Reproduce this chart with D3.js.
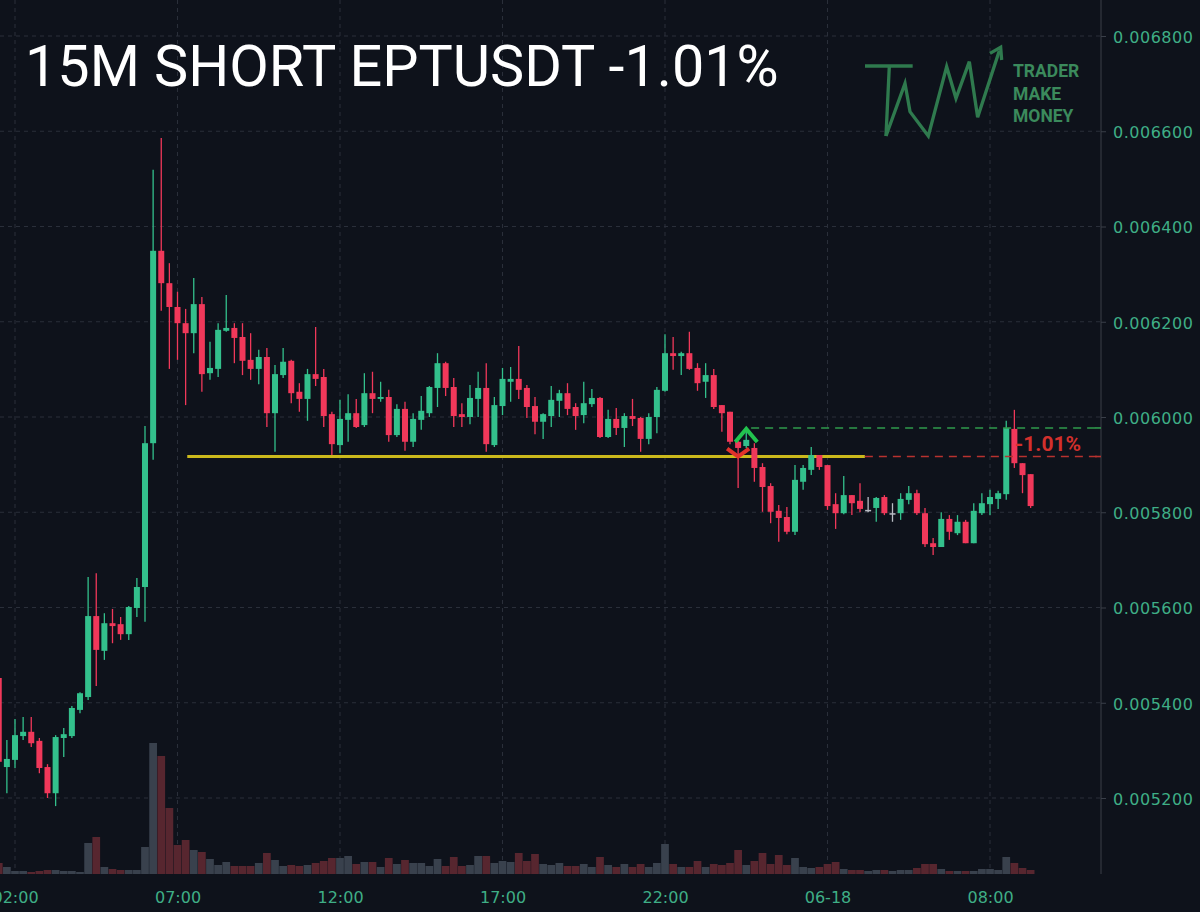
<!DOCTYPE html>
<html><head><meta charset="utf-8">
<script src="https://cdn.jsdelivr.net/npm/d3@7/dist/d3.min.js"></script>
<style>
html,body{margin:0;padding:0;background:#0e121b;}
svg{display:block;}
</style></head>
<body>
<svg id="c" width="1200" height="912"></svg>
<script>
// ---- DATA (15m candles, index 0 = 02:00) ----
const startIndex = -2;
const opens = [0.005452,0.005265,0.005280,0.005330,0.005339,0.005320,0.005265,0.005210,0.005326,0.005330,0.005385,0.005412,0.005582,0.005509,0.005567,0.005565,0.005544,0.005599,0.005643,0.005945,0.006349,0.006281,0.006231,0.006197,0.006176,0.006237,0.006092,0.006101,0.006181,0.006187,0.006168,0.006120,0.006101,0.006126,0.006008,0.006088,0.006118,0.006053,0.006038,0.006090,0.006084,0.006006,0.005941,0.005994,0.006008,0.005983,0.006050,0.006038,0.006042,0.005962,0.006017,0.005948,0.005994,0.006008,0.006061,0.006113,0.006063,0.006006,0.006000,0.006038,0.006061,0.005941,0.006023,0.006074,0.006080,0.006061,0.006023,0.005990,0.006002,0.006034,0.006050,0.006021,0.006004,0.006027,0.006040,0.005958,0.005996,0.005977,0.006002,0.005998,0.005954,0.006000,0.006055,0.006134,0.006128,0.006134,0.006103,0.006074,0.006088,0.006025,0.006011,0.005948,0.005939,0.005935,0.005895,0.005855,0.005803,0.005790,0.005759,0.005864,0.005889,0.005920,0.005899,0.005817,0.005798,0.005836,0.005824,0.005805,0.005809,0.005832,0.005798,0.005798,0.005826,0.005840,0.005798,0.005735,0.005727,0.005786,0.005756,0.005780,0.005735,0.005798,0.005817,0.005828,0.005838,0.005975,0.005903,0.005880];
const highs = [0.005458,0.005322,0.005366,0.005370,0.005370,0.005326,0.005271,0.005332,0.005347,0.005393,0.005422,0.005664,0.005672,0.005588,0.005597,0.005580,0.005603,0.005662,0.005981,0.006519,0.006586,0.006323,0.006263,0.006227,0.006292,0.006252,0.006158,0.006197,0.006256,0.006197,0.006197,0.006176,0.006141,0.006145,0.006109,0.006145,0.006120,0.006071,0.006101,0.006189,0.006101,0.006011,0.006036,0.006048,0.006038,0.006092,0.006095,0.006074,0.006057,0.006027,0.006032,0.006008,0.006044,0.006065,0.006134,0.006116,0.006082,0.006029,0.006067,0.006095,0.006113,0.006042,0.006103,0.006105,0.006149,0.006067,0.006042,0.006008,0.006065,0.006057,0.006071,0.006029,0.006074,0.006059,0.006042,0.006015,0.006019,0.006008,0.006038,0.006000,0.006008,0.006063,0.006174,0.006168,0.006137,0.006179,0.006113,0.006113,0.006101,0.006025,0.006011,0.005950,0.005977,0.005945,0.005903,0.005861,0.005815,0.005811,0.005899,0.005899,0.005937,0.005920,0.005899,0.005840,0.005876,0.005836,0.005861,0.005832,0.005832,0.005836,0.005819,0.005840,0.005855,0.005847,0.005809,0.005746,0.005800,0.005794,0.005794,0.005784,0.005819,0.005840,0.005847,0.005845,0.005992,0.006015,0.005903,0.005880];
const lows = [0.005263,0.005210,0.005263,0.005322,0.005307,0.005252,0.005200,0.005183,0.005286,0.005326,0.005378,0.005406,0.005435,0.005490,0.005525,0.005532,0.005532,0.005580,0.005570,0.005910,0.006223,0.006101,0.006120,0.006025,0.006134,0.006053,0.006078,0.006084,0.006179,0.006113,0.006088,0.006078,0.006069,0.005979,0.005927,0.006082,0.006029,0.006011,0.005992,0.006065,0.005979,0.005920,0.005924,0.005948,0.005977,0.005979,0.006008,0.006032,0.005948,0.005958,0.005929,0.005937,0.005973,0.006000,0.006021,0.006044,0.005979,0.005979,0.005985,0.006000,0.005927,0.005937,0.006004,0.006032,0.006038,0.005998,0.005964,0.005954,0.005979,0.006000,0.006004,0.005973,0.005987,0.006021,0.005956,0.005956,0.005962,0.005937,0.005981,0.005927,0.005943,0.005966,0.006053,0.006099,0.006088,0.006099,0.006055,0.006040,0.006017,0.005969,0.005943,0.005851,0.005935,0.005864,0.005801,0.005777,0.005738,0.005754,0.005752,0.005847,0.005878,0.005889,0.005805,0.005765,0.005796,0.005794,0.005800,0.005800,0.005780,0.005794,0.005780,0.005784,0.005817,0.005794,0.005727,0.005710,0.005727,0.005742,0.005752,0.005735,0.005735,0.005794,0.005794,0.005807,0.005826,0.005893,0.005840,0.005809];
const closes = [0.005276,0.005282,0.005332,0.005339,0.005315,0.005263,0.005210,0.005328,0.005334,0.005389,0.005420,0.005582,0.005511,0.005567,0.005561,0.005544,0.005601,0.005643,0.005945,0.006349,0.006281,0.006231,0.006197,0.006176,0.006237,0.006090,0.006103,0.006183,0.006187,0.006166,0.006118,0.006101,0.006126,0.006008,0.006090,0.006116,0.006050,0.006038,0.006090,0.006080,0.006002,0.005943,0.005996,0.006008,0.005979,0.006050,0.006038,0.006042,0.005962,0.006017,0.005948,0.005996,0.006013,0.006063,0.006113,0.006061,0.006002,0.006000,0.006040,0.006061,0.005943,0.006025,0.006080,0.006080,0.006057,0.006021,0.005990,0.006006,0.006036,0.006050,0.006017,0.006002,0.006029,0.006040,0.005958,0.005996,0.005977,0.006002,0.005996,0.005954,0.006000,0.006057,0.006134,0.006128,0.006134,0.006101,0.006071,0.006088,0.006021,0.006008,0.005948,0.005935,0.005952,0.005893,0.005853,0.005801,0.005788,0.005759,0.005868,0.005893,0.005920,0.005895,0.005813,0.005798,0.005836,0.005819,0.005807,0.005805,0.005830,0.005798,0.005798,0.005828,0.005840,0.005798,0.005733,0.005727,0.005786,0.005759,0.005780,0.005735,0.005803,0.005819,0.005832,0.005840,0.005977,0.005903,0.005878,0.005813];
const volumes = [11,7,3,3,2,3,4,4,3,3,2,31,37,7,5,4,4,4,27,131,118,66,29,34,24,22,15,9,12,8,8,8,11,21,14,8,9,8,9,11,13,16,16,18,10,12,12,7,16,10,14,11,11,8,15,8,17,8,9,18,18,11,13,12,21,13,20,10,9,11,8,8,10,7,17,9,7,10,7,10,7,11,30,10,7,7,13,7,10,9,11,24,9,13,21,10,19,9,16,7,6,7,10,12,5,4,4,3,4,4,3,4,4,6,10,10,5,3,3,3,3,5,5,4,17,11,6,4];
const priceTicks = [0.0052,0.0054,0.0056,0.0058,0.0060,0.0062,0.0064,0.0066,0.0068];
const timeTickIndex = [0,20,40,60,80,100,120];
const timeTickLabels = ["02:00","07:00","12:00","17:00","22:00","06-18","08:00"];
const title = "15M SHORT EPTUSDT -1.01%";
const entryPrice = 0.005917, entryFrom = 21.2, entryTo = 104.6;   // yellow line
const stopPrice = 0.005977, stopFrom = 90.6;                        // green dashed
const resultLabel = "-1.01%";
const sellIndex = 89, buyIndex = 90;

// ---- LAYOUT ----
const W = 1200, H = 912, plotRight = 1101, plotBottom = 874;
const upC = "#33c08c", downC = "#f0385a", dojiC = "#b8bcc4";
const volUp = "#39414d", volDown = "#57262f";
const gridC = "#2a2f3a", axisTxt = "#3fae86";

const candles = opens.map((o,k)=>({i:startIndex+k,o,h:highs[k],l:lows[k],c:closes[k],v:volumes[k]}));

const svg = d3.select("#c");
svg.append("rect").attr("width",W).attr("height",H).attr("fill","#0e121b");

const x = d3.scaleLinear().domain([0,20]).range([15,177.5]);
const y = d3.scaleLinear().domain([0.0052,0.0068]).range([798,36]);
const yv = d3.scaleLinear().domain([0,131]).range([plotBottom, plotBottom-131]);
const step = x(1)-x(0);

// grid
const g = svg.append("g");
g.selectAll(".hg").data(priceTicks).join("line")
  .attr("x1",0).attr("x2",plotRight).attr("y1",d=>y(d)).attr("y2",d=>y(d))
  .attr("stroke",gridC).attr("stroke-width",1).attr("stroke-dasharray","4,4");
g.selectAll(".vg").data(timeTickIndex).join("line")
  .attr("x1",d=>x(d)).attr("x2",d=>x(d)).attr("y1",0).attr("y2",plotBottom)
  .attr("stroke",gridC).attr("stroke-width",1).attr("stroke-dasharray","4,4");

// volume
svg.append("g").selectAll("rect").data(candles).join("rect")
  .attr("x",d=>x(d.i)-step/2+0.2).attr("width",step-0.4)
  .attr("y",d=>yv(d.v)).attr("height",d=>plotBottom-yv(d.v))
  .attr("fill",d=>d.c>=d.o?volUp:volDown);

// entry line
svg.append("line").attr("x1",x(entryFrom)).attr("x2",x(entryTo))
  .attr("y1",y(entryPrice)).attr("y2",y(entryPrice))
  .attr("stroke","#cbb91c").attr("stroke-width",3);

// candles
const cg = svg.append("g");
const col = d=> d.c>d.o?upC:(d.c<d.o?downC:dojiC);
cg.selectAll(".w").data(candles).join("line")
  .attr("x1",d=>x(d.i)).attr("x2",d=>x(d.i)).attr("y1",d=>y(d.h)).attr("y2",d=>y(d.l))
  .attr("stroke",col).attr("stroke-width",1.3);
cg.selectAll(".b").data(candles).join("rect")
  .attr("x",d=>x(d.i)-3).attr("width",6)
  .attr("y",d=>y(Math.max(d.o,d.c)))
  .attr("height",d=>Math.max(1.5,Math.abs(y(d.o)-y(d.c))))
  .attr("fill",col);

// dashed result lines
svg.append("line").attr("x1",x(stopFrom)).attr("x2",plotRight)
  .attr("y1",y(stopPrice)).attr("y2",y(stopPrice))
  .attr("stroke","#2f9a4c").attr("stroke-width",1.6).attr("stroke-dasharray","8,6");
svg.append("line").attr("x1",x(entryTo)).attr("x2",plotRight)
  .attr("y1",y(entryPrice)).attr("y2",y(entryPrice))
  .attr("stroke","#b8322f").attr("stroke-width",1.6).attr("stroke-dasharray","8,6");

// markers
const sx = x(sellIndex), sy = y(entryPrice);
svg.append("path").attr("d",`M${sx-11},${sy-8}L${sx},${sy}L${sx+11},${sy-8}`)
  .attr("fill","none").attr("stroke","#e2322b").attr("stroke-width",4);
const bx = x(buyIndex), by = y(stopPrice)+1;
svg.append("path").attr("d",`M${bx-11},${by+13}L${bx},${by}L${bx+11},${by+13}`)
  .attr("fill","none").attr("stroke","#22c24e").attr("stroke-width",4);

svg.append("text").attr("x",1015).attr("y",y(entryPrice)-6)
  .attr("fill","#d3302c").attr("font-family","Roboto, sans-serif").attr("font-weight",700)
  .attr("font-size",21).text(resultLabel);

// right axis
svg.append("line").attr("x1",plotRight).attr("x2",plotRight).attr("y1",0).attr("y2",plotBottom)
  .attr("stroke","#3a3f49").attr("stroke-width",1);
const ya = svg.append("g").attr("transform",`translate(${plotRight},0)`)
  .call(d3.axisRight(y).tickValues(priceTicks).tickFormat(d3.format(".6f")).tickSize(5).tickPadding(7));
ya.select(".domain").remove();
ya.selectAll(".tick line").attr("stroke","#3a3f49");
ya.selectAll("text").attr("fill",axisTxt).attr("font-family","DejaVu Sans, sans-serif")
  .attr("font-size",16).attr("letter-spacing","0.5px").attr("dy","0.4em");
// small price markers on axis
svg.append("line").attr("x1",plotRight-6).attr("x2",plotRight).attr("y1",y(stopPrice)).attr("y2",y(stopPrice)).attr("stroke","#2f9a4c").attr("stroke-width",1.6);
svg.append("line").attr("x1",plotRight-6).attr("x2",plotRight).attr("y1",y(entryPrice)).attr("y2",y(entryPrice)).attr("stroke","#b8322f").attr("stroke-width",1.6);

// bottom axis
const xa = svg.append("g").attr("transform",`translate(0,${plotBottom})`)
  .call(d3.axisBottom(x).tickValues(timeTickIndex).tickFormat((d,k)=>timeTickLabels[k]).tickSize(0).tickPadding(18));
xa.select(".domain").remove();
xa.selectAll("text").attr("fill",axisTxt).attr("font-family","DejaVu Sans, sans-serif").attr("font-size",16);

// title
svg.append("text").attr("x",25).attr("y",86).attr("fill","#ffffff")
  .attr("font-family","Roboto, sans-serif").attr("font-size",57.5).text(title);

// logo
const logo = svg.append("g").attr("transform","translate(850,30) scale(0.3333)");
const lc = "#2f7a4e";
logo.append("path").attr("d","M45,108L188,108M118,108L108,318")
  .attr("stroke",lc).attr("stroke-width",10).attr("fill","none");
logo.append("path").attr("d","M108,318L165,160L180,245L235,318L290,110L318,205L358,95L383,262L448,62")
  .attr("stroke",lc).attr("stroke-width",10).attr("fill","none").attr("stroke-linejoin","miter");
logo.append("path").attr("d","M420,70L452,52L455,90")
  .attr("stroke",lc).attr("stroke-width",10).attr("fill","none");
const lt = svg.append("g").attr("fill","#3b8a5c").attr("font-family","Roboto, sans-serif").attr("font-weight",700).attr("font-size",17.5);
["TRADER","MAKE","MONEY"].forEach((t,k)=>lt.append("text").attr("x",1013).attr("y",77+k*22.5).text(t));
</script>
</body></html>
